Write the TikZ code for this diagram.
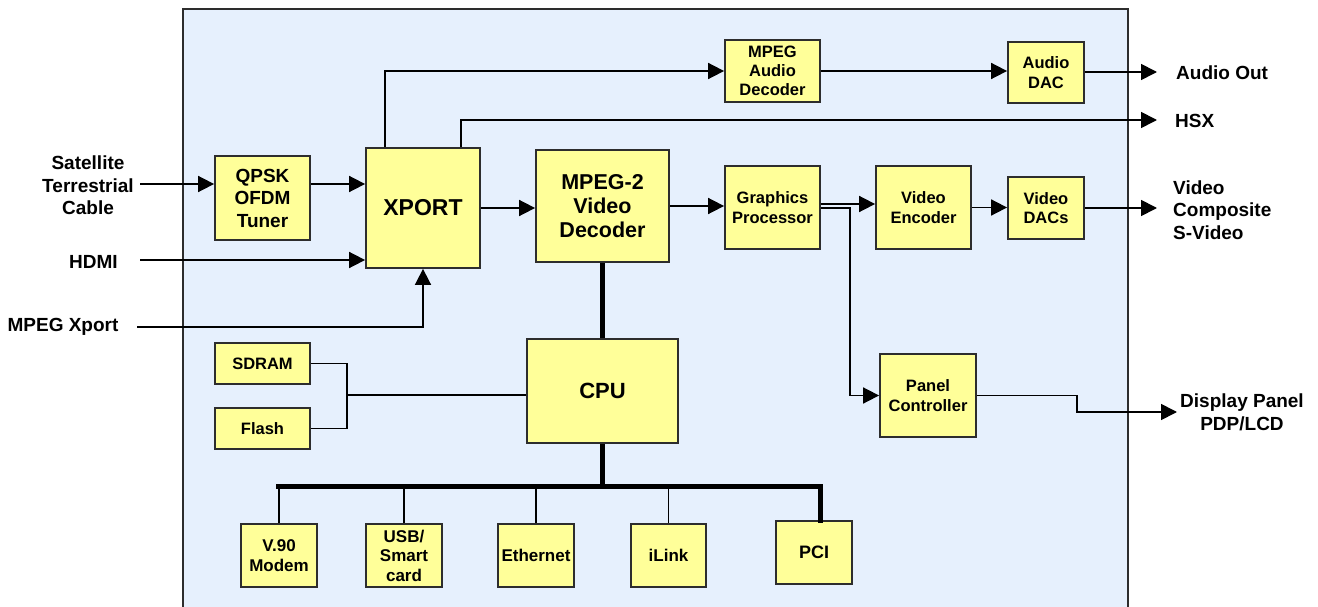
\documentclass[tikz,border=0pt]{standalone}
\usepackage{fontspec}
\setmainfont{Liberation Sans}
\usetikzlibrary{arrows.meta}
\definecolor{bgblue}{RGB}{230,240,253}
\definecolor{boxyellow}{RGB}{255,255,153}
\definecolor{edge}{RGB}{45,45,45}
\tikzset{
  blk/.style={draw=edge, line width=1.8pt, fill=boxyellow, inner sep=0pt, align=center,
    font=\bfseries\fontsize{16.5}{19.5}\selectfont},
  bigblk/.style={blk, font=\bfseries\fontsize{21.5}{24}\selectfont},
  lbl/.style={inner sep=0pt, font=\bfseries\fontsize{19}{22.5}\selectfont},
  wire/.style={draw=black, line width=1.7pt},
  arr/.style={wire, -{Triangle[length=16pt,width=16pt]}},
  bus/.style={draw=black, line width=5pt}
}
\begin{document}
\begin{tikzpicture}[x=1pt,y=-1pt]
\useasboundingbox (0,0) rectangle (1318,607);
\fill[white] (0,0) rectangle (1318,607);
\draw[draw=edge, line width=1.5pt, fill=bgblue] (183,9) rectangle (1128,640);

% blocks
\node[blk, minimum width=95, minimum height=84, font=\bfseries\fontsize{19}{22.5}\selectfont] (qpsk) at (262.5,198) {QPSK\\OFDM\\Tuner};
\node[bigblk, minimum width=114, minimum height=120, font=\bfseries\fontsize{23}{26}\selectfont] (xport) at (423,208) {XPORT};
\node[bigblk, minimum width=133, minimum height=112] (vdec) at (602.5,206) {MPEG-2\\Video\\Decoder};
\node[blk, minimum width=95, minimum height=62, font=\bfseries\fontsize{16.5}{19}\selectfont] (adec) at (772.5,71) {MPEG\\Audio\\Decoder};
\node[blk, minimum width=95, minimum height=83] (gp) at (772.5,207.5) {Graphics\\Processor};
\node[blk, minimum width=95, minimum height=83] (venc) at (923.5,207.5) {Video\\Encoder};
\node[blk, minimum width=76, minimum height=61] (adac) at (1046,72.5) {Audio\\DAC};
\node[blk, minimum width=76, minimum height=62] (vdacs) at (1046,208) {Video\\DACs};
\node[bigblk, minimum width=151, minimum height=104, font=\bfseries\fontsize{22}{25}\selectfont] (cpu) at (602.5,391) {CPU};
\node[blk, minimum width=95, minimum height=41] (sdram) at (262.5,363.5) {SDRAM};
\node[blk, minimum width=95, minimum height=41] (flash) at (262.5,428.5) {Flash};
\node[blk, minimum width=96, minimum height=83] (panel) at (928,395.5) {Panel\\Controller};
\node[blk, minimum width=76, minimum height=63, font=\bfseries\fontsize{17}{19.5}\selectfont] (modem) at (279,555.5) {V.90\\Modem};
\node[blk, minimum width=76, minimum height=63, font=\bfseries\fontsize{17}{19.5}\selectfont] (usb) at (404,555.5) {USB/\\Smart\\card};
\node[blk, minimum width=76, minimum height=63, font=\bfseries\fontsize{17}{19.5}\selectfont] (eth) at (536,555.5) {Ethernet};
\node[blk, minimum width=75, minimum height=63, font=\bfseries\fontsize{17}{19.5}\selectfont] (ilink) at (668.5,555.5) {iLink};
\node[blk, minimum width=76, minimum height=63, font=\bfseries\fontsize{18}{20}\selectfont] (pci) at (814,552.5) {PCI};

% outside labels
\node[lbl, align=center] (sat) at (88,185.5) {Satellite\\Terrestrial\\Cable};
\node[lbl] (hdmi) at (93.5,262) {HDMI};
\node[lbl] (mx) at (63,327) {MPEG Xport};
\node[lbl, anchor=west] (aoutl) at (1176,73) {Audio Out};
\node[lbl, anchor=west] (hsxl) at (1175,121) {HSX};
\node[lbl, anchor=west, align=left] (voutl) at (1173,210) {Video\\Composite\\S-Video};
\node[lbl, align=center] (poutl) at (1242,412.5) {Display Panel\\PDP/LCD};

% free ends
\coordinate (satin) at (140,184);
\coordinate (hdmiin) at (140,260);
\coordinate (mxin) at (137,327);
\coordinate (aout) at (1157,72);
\coordinate (hsxout) at (1157,120);
\coordinate (vout) at (1157,208);
\coordinate (pout) at (1177,412);
\coordinate (mj) at (347,395);
\coordinate (busL) at (278,486);
\coordinate (busR) at (820,486);

% connectors
\draw[arr] (satin) -- (qpsk.west |- satin);
\draw[arr] (qpsk.east |- satin) -- (xport.west |- satin);
\draw[arr] (hdmiin) -- (xport.west |- hdmiin);
\draw[arr] (mxin) -| (xport.south);
\draw[arr] ([xshift=-38]xport.north) |- (adec.west);
\draw[arr] ([xshift=38]xport.north) |- (hsxout);
\draw[arr] (xport.east) -- (vdec.west |- xport.east);
\draw[arr] (vdec.east) -- (gp.west |- vdec.east);
\draw[arr] ([yshift=3.5]gp.east) -- ([yshift=3.5]venc.west);
\draw[arr] ([yshift=-0.5]gp.east) -- ++(29,0) |- (panel.west);
\draw[arr] (venc.east) -- (vdacs.west |- venc.east);
\draw[arr] (vdacs.east) -- (vout);
\draw[arr] (adec.east) -- (adac.west |- adec.east);
\draw[arr] (adac.east |- aout) -- (aout);
\draw[arr] (panel.east) -- ++(100,0) |- (pout);

\draw[wire] (sdram.east) -| (mj) |- (flash.east);
\draw[wire] (mj) -- (cpu.west |- mj);

\draw[bus] (vdec.south) -- (cpu.north);
\draw[bus] (cpu.south) -- (cpu.south |- busL);
\draw[bus, line cap=rect] (busL) -- (busR) -- (busR |- pci.north);
\draw[wire, line width=1.4pt] (modem.north |- busL) -- (modem.north);
\draw[wire, line width=1.4pt] (usb.north |- busL) -- (usb.north);
\draw[wire, line width=1.4pt] (eth.north |- busL) -- (eth.north);
\draw[wire, line width=1.4pt] (ilink.north |- busL) -- (ilink.north);
\end{tikzpicture}
\end{document}
